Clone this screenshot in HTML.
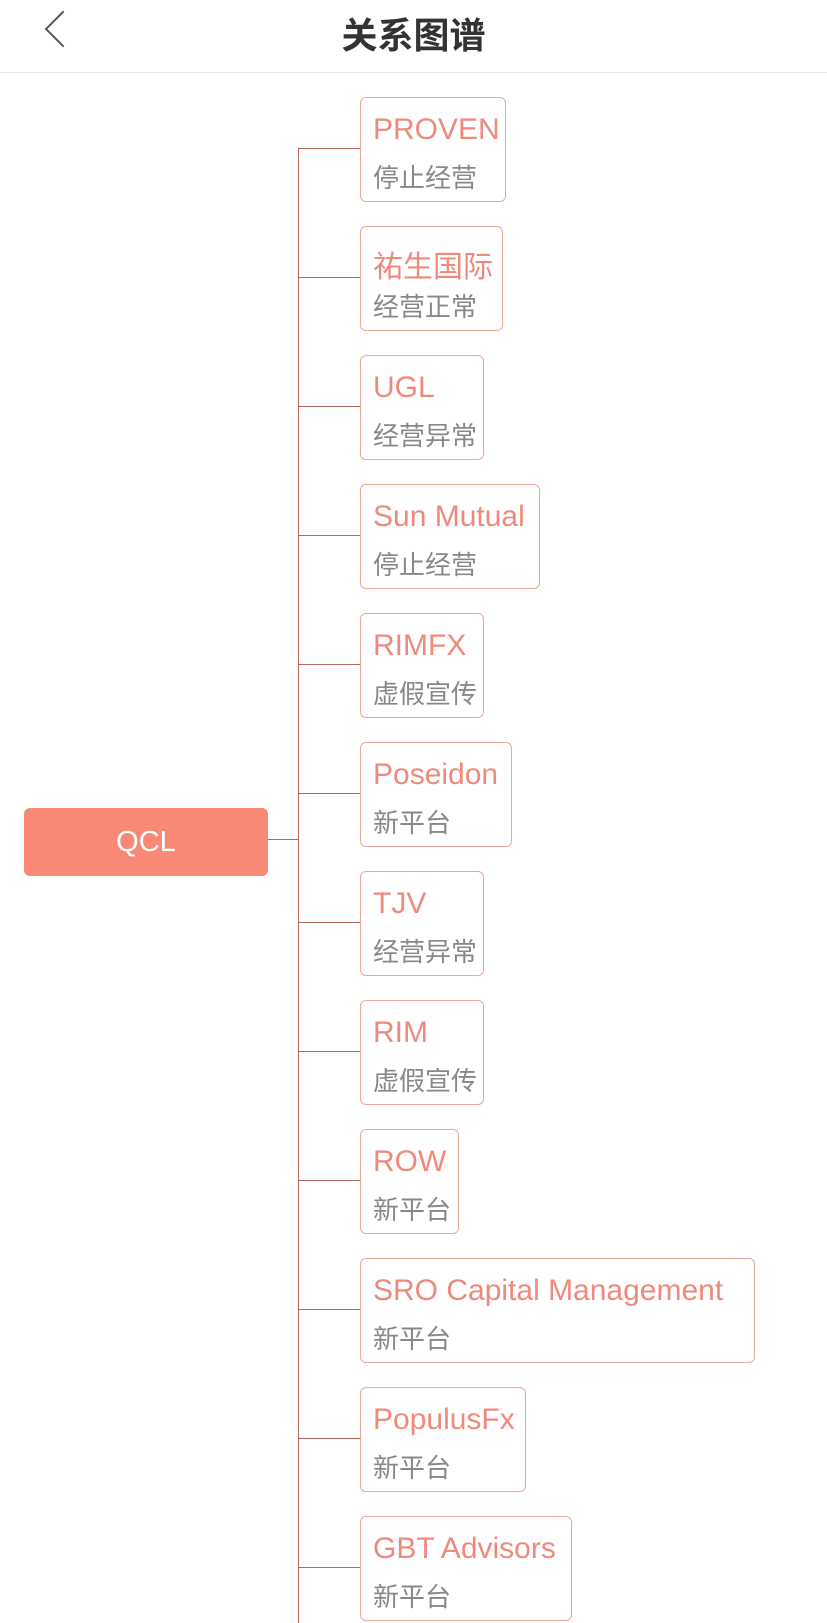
<!DOCTYPE html>
<html><head><meta charset="utf-8"><style>
body{margin:0;width:827px;height:1623px;background:#fff;position:relative;overflow:hidden;font-family:"Liberation Sans","Noto Sans CJK SC",sans-serif}
.hd{position:absolute;left:0;top:0;width:827px;height:72px;border-bottom:1px solid #e6e6e6}
.title{position:absolute;left:0;width:827px;top:7px;text-align:center;font-size:36px;font-weight:bold;color:#333}
.back{position:absolute;left:50px;top:16px;width:24px;height:24px;border-left:2px solid #555;border-bottom:2px solid #555;transform:rotate(45deg);transform-origin:center}
.node{position:absolute;left:360px;height:105px;border:1px solid #eaa79c;border-radius:6px;box-sizing:border-box;background:rgba(255,255,255,0.6)}
.n{position:absolute;left:12px;top:15px;font-size:30px;color:#ee8a7b;white-space:nowrap}
.s{position:absolute;left:12px;top:60px;font-size:26px;color:#888;white-space:nowrap}
.h{position:absolute;left:298px;width:62px;height:1px;background:#b5675c}
.v{position:absolute;left:298px;top:148px;width:1px;height:1475px;background:#b5675c}
.root{position:absolute;left:24px;top:808px;width:244px;height:68px;background:#fa8876;border-radius:6px;color:#fff;font-size:29px;text-align:center;line-height:68px}
</style></head><body>
<div class="hd"><div class="back"></div><div class="title">关系图谱</div></div>
<div class="v"></div>
<div class="root">QCL</div>
<div style="position:absolute;left:268px;top:839px;width:30px;height:1px;background:#b5675c"></div>

<div class="h" style="top:148px"></div><div class="node" style="top:97px;width:146px"><div class="n">PROVEN</div><div class="s">停止经营</div></div>
<div class="h" style="top:277px"></div><div class="node" style="top:226px;width:143px"><div class="n">祐生国际</div><div class="s">经营正常</div></div>
<div class="h" style="top:406px"></div><div class="node" style="top:355px;width:124px"><div class="n">UGL</div><div class="s">经营异常</div></div>
<div class="h" style="top:535px"></div><div class="node" style="top:484px;width:180px"><div class="n">Sun Mutual</div><div class="s">停止经营</div></div>
<div class="h" style="top:664px"></div><div class="node" style="top:613px;width:124px"><div class="n">RIMFX</div><div class="s">虚假宣传</div></div>
<div class="h" style="top:793px"></div><div class="node" style="top:742px;width:152px"><div class="n">Poseidon</div><div class="s">新平台</div></div>
<div class="h" style="top:922px"></div><div class="node" style="top:871px;width:124px"><div class="n">TJV</div><div class="s">经营异常</div></div>
<div class="h" style="top:1051px"></div><div class="node" style="top:1000px;width:124px"><div class="n">RIM</div><div class="s">虚假宣传</div></div>
<div class="h" style="top:1180px"></div><div class="node" style="top:1129px;width:99px"><div class="n">ROW</div><div class="s">新平台</div></div>
<div class="h" style="top:1309px"></div><div class="node" style="top:1258px;width:395px"><div class="n">SRO Capital Management</div><div class="s">新平台</div></div>
<div class="h" style="top:1438px"></div><div class="node" style="top:1387px;width:166px"><div class="n">PopulusFx</div><div class="s">新平台</div></div>
<div class="h" style="top:1567px"></div><div class="node" style="top:1516px;width:212px"><div class="n">GBT Advisors</div><div class="s">新平台</div></div>
</body></html>
